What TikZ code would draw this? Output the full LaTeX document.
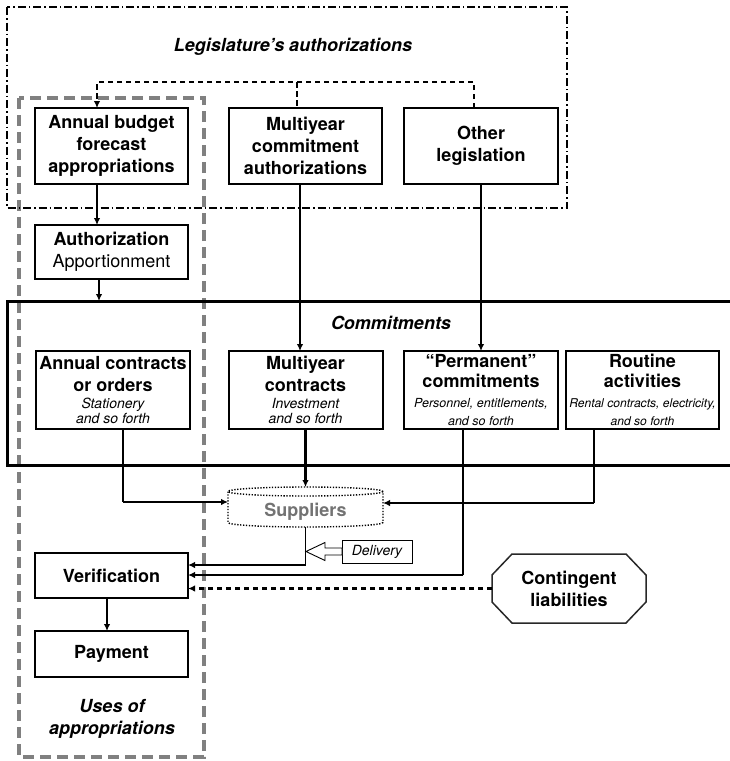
\documentclass[tikz,border=0pt]{standalone}
\usepackage{fontspec}
\setmainfont{TeX Gyre Heros}
\usetikzlibrary{arrows.meta,calc}
\newcommand\ditA[1]{{\mdseries\itshape\fontsize{14}{15}\selectfont #1}}
\newcommand\ditB[1]{{\mdseries\itshape\fontsize{12.5}{14}\selectfont #1}}
\newcommand\ditC[1]{{\mdseries\itshape\fontsize{12.1}{14}\selectfont #1}}
\begin{document}
\begin{tikzpicture}[x=1pt,y=-1pt,
  box/.style={draw,line width=2pt,fill=white,align=center,inner sep=0pt,outer sep=0pt,font=\fontsize{18}{22}\selectfont\bfseries},
  conn/.style={line width=2.1pt},
  thickconn/.style={line width=3pt},
  thinconn/.style={line width=1.1pt},
  tip/.style={-{Latex[length=7pt,width=6.5pt]}},
  dashconn/.style={line width=2.1pt,dash pattern=on 5.5pt off 3.5pt},
  titletext/.style={font=\fontsize{18}{22}\selectfont\bfseries\itshape,align=center,inner sep=0pt},
  legline/.style={line width=1.5pt,dash pattern=on 8pt off 3pt on 1.5pt off 3pt},
  grayline/.style={line width=3.5pt,draw={rgb,255:red,128;green,128;blue,128},dash pattern=on 11pt off 6pt},
  supline/.style={line width=1.4pt,dash pattern=on 1.3pt off 1.6pt},
]
\useasboundingbox (0,0) rectangle (730,761);
\fill[white] (0,0) rectangle (730,761);

% frames
\draw[grayline] (19,98) rectangle (204,757);
\draw[legline] (7,7) rectangle (567,208);
\draw[line width=3pt] (731,301) -- (7,301) -- (7,465) -- (731,465);

% titles
\node[titletext] (lt) at (293,47) {Legislature’s authorizations};
\node[titletext] (ct) at (391,323) {Commitments};
\node[titletext] (ut) at (112,719) {Uses of\\appropriations};

% top row
\node[box,minimum width=153pt,minimum height=76pt] (ab) at (111.5,146) {Annual budget\\forecast\\appropriations};
\node[box,minimum width=153pt,minimum height=76pt] (mya) at (305.5,146) {Multiyear\\commitment\\authorizations};
\node[box,minimum width=154pt,minimum height=76pt] (ol) at (481,146) {Other\\legislation};

\node[box,minimum width=153pt,minimum height=54pt] (au) at (111.5,252) {Authorization\\{\mdseries Apportionment}};

% commitments row
\node[box,minimum width=154pt,minimum height=78pt] (ac) at (113,390) {Annual contracts\\or orders\\[-5pt]\ditA{Stationery}\\[-7pt]\ditA{and so forth}};
\node[box,minimum width=154pt,minimum height=78pt] (mc) at (305.5,390) {Multiyear\\contracts\\[-5pt]\ditA{Investment}\\[-7pt]\ditA{and so forth}};
\node[box,minimum width=154pt,minimum height=78pt] (pm) at (481,390) {“Permanent”\\[-2pt]commitments\\[-2pt]\ditB{Personnel, entitlements,}\\[-4pt]\ditB{and so forth}};
\node[box,minimum width=153pt,minimum height=78pt] (rt) at (642.5,390) {Routine\\[-2pt]activities\\[-2pt]\ditC{Rental contracts, electricity,}\\[-4pt]\ditC{and so forth}};

% suppliers
\node[inner sep=0pt,outer sep=0pt,minimum width=155pt,minimum height=40pt,text={rgb,255:red,115;green,115;blue,115},font=\fontsize{18}{22}\selectfont\bfseries] (sup) at (305.5,507) {\raisebox{-9pt}[0pt][0pt]{Suppliers}};
\draw[supline] ($(sup.north west)+(0,4.5)$) -- ($(sup.south west)+(0,-4.5)$)
  arc[start angle=180,end angle=360,x radius=77.5pt,y radius=4.5pt]
  -- ($(sup.north east)+(0,4.5)$);
\draw[supline] ($(sup.north)+(0,4.5)$) ellipse[x radius=77.5pt,y radius=4.5pt];

% bottom
\node[box,minimum width=153pt,minimum height=45pt] (ver) at (111.5,575.5) {Verification};
\node[box,minimum width=153pt,minimum height=46pt] (pay) at (111.5,654) {Payment};
\node[inner sep=0pt,outer sep=0pt,minimum width=154pt,minimum height=69pt,align=center,font=\fontsize{18}{22}\selectfont\bfseries] (cl) at (569,588.5) {Contingent\\liabilities};
\draw[line width=1.5pt,draw={rgb,255:red,40;green,40;blue,40}]
  ($(cl.north west)+(20,0)$) -- ($(cl.north east)+(-20,0)$) -- ($(cl.north east)+(0,21)$)
  -- ($(cl.south east)+(0,-21)$) -- ($(cl.south east)+(-20,0)$) -- ($(cl.south west)+(20,0)$)
  -- ($(cl.south west)+(0,-21)$) -- ($(cl.north west)+(0,21)$) -- cycle;

\node[draw,line width=1pt,inner sep=0pt,outer sep=0pt,minimum width=70pt,minimum height=23pt,font=\fontsize{14}{16}\selectfont\itshape] (dl) at (377,551.5) {Delivery};

% coordinates
\coordinate (d0) at (97,82);
\coordinate (d1) at (297,82);
\coordinate (d2) at (474,82);
\coordinate (ctop) at (99,301);
\coordinate (v1) at (300,0);
\coordinate (v3) at (107,0);
\coordinate (k1) at (123,502);
\coordinate (k2) at (594,503);
\coordinate (k3) at (305.5,565);
\coordinate (k4) at (463,575);

% dashed legislation connector
\draw[dashconn,tip] (d2 |- ol.north) -- (d2) -- (d0) -- (d0 |- ab.north);
\draw[dashconn] (d1) -- (d1 |- mya.north);

% solid connectors
\draw[conn,tip] (d0 |- ab.south) -- (d0 |- au.north);
\draw[conn,tip] (ctop |- au.south) -- (ctop);
\draw[conn,tip] (v1 |- mya.south) -- (v1 |- mc.north);
\draw[conn,tip] (ol.south) -- (pm.north);
\draw[thickconn,tip] (mc.south) -- (sup.north);

\draw[thinconn] (k1 |- ac.south) -- (k1);
\draw[conn,tip] (k1) -- (k1 -| sup.west);
\draw[thinconn] (k2 |- rt.south) -- (k2);
\draw[conn,tip] (k2) -- (k2 -| sup.east);

\draw[thinconn] (sup.south) -- (k3);
\draw[conn,tip] (k3) -- (k3 -| ver.east);
\draw[thinconn] (k4 |- pm.south) -- (k4);
\draw[conn,tip] (k4) -- (k4 -| ver.east);
\draw[dashconn,tip] (cl.west) -- (cl.west -| ver.east);

\draw[line width=1.6pt,tip] (v3 |- ver.south) -- (v3 |- pay.north);

% delivery hollow arrow
\draw[line width=0.9pt,fill=white]
  ($(dl.west)+(-36,0)$) -- ($(dl.west)+(-17,-9)$) -- ($(dl.west)+(-17,-3.5)$)
  -- ($(dl.west)+(0,-3.5)$) -- ($(dl.west)+(0,3.5)$) -- ($(dl.west)+(-17,3.5)$)
  -- ($(dl.west)+(-17,9)$) -- cycle;
\end{tikzpicture}
\end{document}
